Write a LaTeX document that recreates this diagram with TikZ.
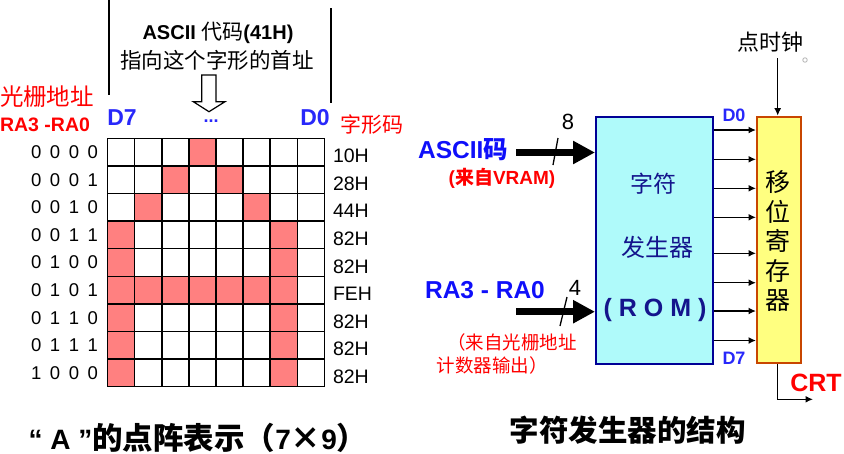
\documentclass[tikz,border=0pt]{standalone}
\usepackage{fontspec}
\setmainfont{Liberation Sans}
\newfontfamily\cjk{Noto Sans CJK SC}
\usetikzlibrary{arrows.meta}
\newcommand\fsz[1]{\fontsize{#1}{#1}\selectfont}
\newcommand\bitrow[4]{#1\hspace{8.6pt}#2\hspace{8.6pt}#3\hspace{8.6pt}#4}
\definecolor{lblblue}{RGB}{40,40,250}
\definecolor{inblue}{RGB}{15,15,250}
\definecolor{cellred}{RGB}{255,128,128}
\definecolor{romfill}{RGB}{175,250,250}
\definecolor{romedge}{RGB}{0,0,150}
\definecolor{romtext}{RGB}{20,20,140}
\definecolor{regfill}{RGB}{255,255,128}
\definecolor{regedge}{RGB}{200,70,0}
\tikzset{
  txt/.style={inner sep=0pt, outer sep=0pt},
  sig/.style={line width=1.5pt, -{Latex[length=7.5pt,width=7pt]}},
  bus/.style={line width=6.7pt, -{Triangle[length=22pt,width=22pt]}},
  slashln/.style={line width=1.3pt},
  gridln/.style={line width=1.4pt},
}
\begin{document}
\begin{tikzpicture}[x=1pt,y=-1pt]
\useasboundingbox (0,0) rectangle (844,453);
% ---------- left: dot matrix ----------
\coordinate (la) at (109,0); \coordinate (lb) at (109,95);
\coordinate (ra) at (331,8); \coordinate (rb) at (331,103);
\draw[line width=1.3pt] (la) -- (lb);
\draw[line width=1.3pt] (ra) -- (rb);
\node[txt] (asc) at (218,33) {\fsz{20}\bfseries ASCII {\cjk\mdseries\fsz{21}代码}(41H)};
\node[txt] (ptr) at (217,60) {\cjk\fsz{21.5}指向这个字形的首址};
\draw[line width=1.2pt, fill=white] (201.7,75) -- (216,75) -- (216,101.7) -- (225,101.7) -- (209,111.7) -- (193.3,101.7) -- (201.7,101.7) -- cycle;
\node[txt, text=lblblue] (dots) at (211,121) {\fsz{18}\bfseries ...};
\node[txt, text=red] (gsa) at (47,97) {\cjk\fsz{23.5}光栅地址};
\node[txt, text=red] (ra30) at (45,125) {\fsz{19.5}\bfseries RA3 -RA0};
\node[txt, text=lblblue] (d7l) at (122,118) {\fsz{23}\bfseries D7};
\node[txt, text=lblblue] (d0l) at (315,118) {\fsz{23}\bfseries D0};
\node[txt, text=red] (zxm) at (372,125) {\cjk\fsz{21}字形码};
% cells
\def\cw{27.08}\def\ch{27.6}
\foreach \r/\c in {0/3, 1/2,1/4, 2/1,2/5, 3/0,3/6, 4/0,4/6, 5/0,5/1,5/2,5/3,5/4,5/5,5/6, 6/0,6/6, 7/0,7/6, 8/0,8/6}
  \fill[cellred] (107.7+\c*\cw,138.3+\r*\ch) rectangle ++(\cw,\ch);
\foreach \i in {0,...,8} \draw[gridln] (107.7+\i*\cw,138.3) -- (107.7+\i*\cw,386.7);
\foreach \j in {0,...,9} \draw[gridln] (107.7,138.3+\j*\ch) -- (324.3,138.3+\j*\ch);
\foreach \r/\a/\b/\c/\d/\h in {0/0/0/0/0/10H, 1/0/0/0/1/28H, 2/0/0/1/0/44H, 3/0/0/1/1/82H, 4/0/1/0/0/82H, 5/0/1/0/1/FEH, 6/0/1/1/0/82H, 7/0/1/1/1/82H, 8/1/0/0/0/82H}{
  \node[txt, anchor=east] (row\r) at (98,152.1+\r*\ch) {\fsz{18.5}\bitrow{\a}{\b}{\c}{\d}};
  \node[txt, anchor=west] (hex\r) at (333,156+\r*\ch) {\fsz{19.5}\h};
}
\node[inner sep=1pt, outer sep=0pt] (capA) at (198,438) {\fsz{28}\bfseries “ A ”{\cjk\fsz{30.5}的点阵表示（}7{\cjk\fsz{30.5}×}9{\cjk\fsz{30.5}）}};
% ---------- right: character generator ----------
\node[draw=romedge, fill=romfill, line width=2pt, minimum width=117.3pt, minimum height=247.6pt, inner sep=0pt, anchor=north west] (rom) at (595,115.7) {};
\node[txt, text=romtext] (rom1) at (653,184) {\cjk\fsz{23}字符};
\node[txt, text=romtext] (rom2) at (657,247) {\cjk\fsz{24}发生器};
\node[txt, text=romtext] (rom3) at (655,310) {\fsz{25}\bfseries ( R O M )};
\node[draw=regedge, fill=regfill, line width=2pt, minimum width=44pt, minimum height=246.6pt, inner sep=0pt, anchor=north west] (reg) at (756,115.7) {};
\node[txt, align=center, font={\cjk\fontsize{25}{29.5}\selectfont}] (regtxt) at (778,241) {移\\位\\寄\\存\\器};
\foreach \yy in {130,159.3,188.3,217.3,253.3,282.7,311,340.5}
  \draw[sig] (rom.east |- 0,\yy) -- (reg.west |- 0,\yy);
\node[txt, text=lblblue] (d0r) at (734,115) {\fsz{18}\bfseries D0};
\node[txt, text=lblblue] (d7r) at (734,358) {\fsz{18}\bfseries D7};
\node[txt] (clk) at (770,42) {\cjk\fsz{22}点时钟};
\coordinate (clks) at (777.7,58);
\draw[sig] (clks) -- (clks |- reg.north);
\node[draw=gray!60, circle, line width=0.8pt, minimum size=4.5pt, inner sep=0pt] (dotc) at (805,60) {};
\coordinate (crtc) at (777.7,399.3);
\coordinate (crte) at (813,399.3);
\draw[sig] (crtc |- reg.south) -- (crtc) -- (crte);
\node[txt, text=red] (crt) at (816,383) {\fsz{25}\bfseries CRT};
% inputs
\coordinate (ascs) at (516,152.5);
\draw[bus] (ascs) -- (rom.west |- ascs);
\coordinate (s1a) at (558,138); \coordinate (s1b) at (553,165);
\draw[slashln] (s1a) -- (s1b);
\node[txt] (n8) at (568,122) {\fsz{22}8};
\node[txt, text=inblue] (ascin) at (463,150) {\fsz{24.5}\bfseries ASCII{\cjk 码}};
\node[txt, text=red] (vram) at (502,178) {\fsz{19}\bfseries ({\cjk 来自}VRAM)};
\coordinate (ras) at (516,311.7);
\draw[bus] (ras) -- (rom.west |- ras);
\coordinate (s2a) at (567,297); \coordinate (s2b) at (560,326);
\draw[slashln] (s2a) -- (s2b);
\node[txt] (n4) at (575,288) {\fsz{22}4};
\node[txt, text=inblue] (rain) at (485,290) {\fsz{24.5}\bfseries RA3 - RA0};
\node[txt, text=red] (src1) at (512,342) {\cjk\fsz{18.5}（来自光栅地址};
\node[txt, text=red] (src2) at (492,365) {\cjk\fsz{18.5}计数器输出）};
\node[txt] (title) at (627.5,430) {\cjk\fsz{29.5}\bfseries 字符发生器的结构};
\end{tikzpicture}
\end{document}
